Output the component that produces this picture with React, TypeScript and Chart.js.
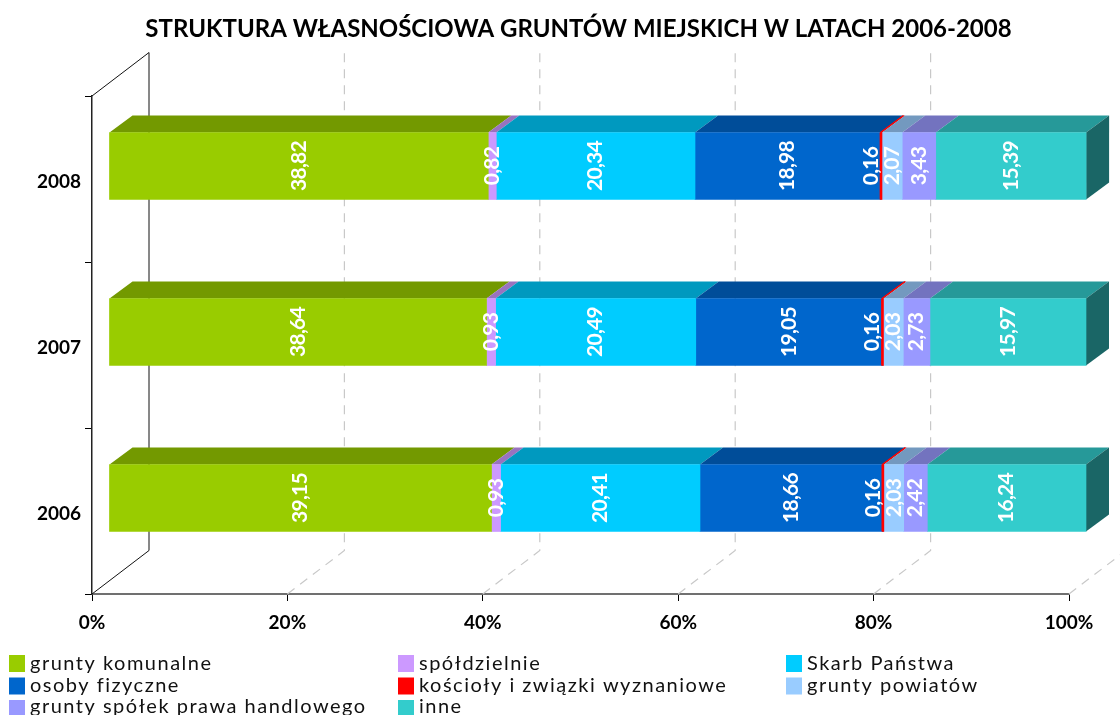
import React, { useEffect, useRef } from "react";
import { Chart, registerables } from "chart.js";

Chart.register(...registerables);

const years = ["2008", "2007", "2006"];
const komunalne = [38.82, 38.64, 39.15];
const spoldzielnie = [0.82, 0.93, 0.93];
const skarbPanstwa = [20.34, 20.49, 20.41];
const osobyFizyczne = [18.98, 19.05, 18.66];
const koscioly = [0.16, 0.16, 0.16];
const powiaty = [2.07, 2.03, 2.03];
const spolki = [3.43, 2.73, 2.42];
const inne = [15.39, 15.97, 16.24];

const labels = [
  "grunty komunalne",
  "spółdzielnie",
  "Skarb Państwa",
  "osoby fizyczne",
  "kościoły i związki wyznaniowe",
  "grunty powiatów",
  "grunty spółek prawa handlowego",
  "inne",
];
const values = [komunalne, spoldzielnie, skarbPanstwa, osobyFizyczne, koscioly, powiaty, spolki, inne];
const colors = ["#99CC00", "#CC99FF", "#00CCFF", "#0066CC", "#FF0000", "#99CCFF", "#9999FF", "#33CCCC"];
const topColors = ["#739900", "#9973BF", "#0099BF", "#004D99", "#BF0000", "#7399BF", "#7373BF", "#269999"];
const sideColor = "#1A6666";

const WALL = { dx: 57, dy: -43.5 };
const OFFSET = { dx: 17, dy: -13 };
const DEPTH = { dx: 23, dy: -17 };
const THIN = 3;
const FONT = "Lato, 'Open Sans', sans-serif";

function poly(ctx: CanvasRenderingContext2D, pts: number[][], fill: string) {
  ctx.beginPath();
  pts.forEach((p, i) => (i ? ctx.lineTo(p[0], p[1]) : ctx.moveTo(p[0], p[1])));
  ctx.closePath();
  ctx.fillStyle = fill;
  ctx.fill();
}

const walls = {
  id: "walls",
  afterLayout(chart: any) {
    if (chart.titleBlock) {
      chart.titleBlock.left -= 2;
      chart.titleBlock.right -= 2;
    }
  },
  beforeDatasetsDraw(chart: any) {
    const { ctx, scales, chartArea } = chart;
    const { top, bottom, left } = chartArea;
    ctx.save();
    ctx.lineWidth = 1.2;
    ctx.strokeStyle = "#C8C8C8";
    ctx.setLineDash([9, 7]);
    scales.x.ticks.forEach((t: any) => {
      const x = scales.x.getPixelForValue(t.value);
      if (t.value === 0) return;
      ctx.beginPath();
      ctx.moveTo(x, bottom);
      ctx.lineTo(x + WALL.dx, bottom + WALL.dy);
      ctx.lineTo(x + WALL.dx, top + WALL.dy);
      ctx.stroke();
    });
    ctx.setLineDash([]);
    ctx.lineWidth = 1;
    ctx.strokeStyle = "#111111";
    ctx.beginPath();
    ctx.moveTo(left, top);
    ctx.lineTo(left + WALL.dx, top + WALL.dy);
    ctx.lineTo(left + WALL.dx, bottom + WALL.dy);
    ctx.lineTo(left, bottom);
    ctx.stroke();
    ctx.restore();

    ctx.save();
    ctx.translate(OFFSET.dx, OFFSET.dy);
    chart.data.datasets.forEach((_: any, di: number) => {
      chart.getDatasetMeta(di).data.forEach((bar: any) => {
        const { x, y, base, height } = bar.getProps(["x", "y", "base", "height"], true);
        const t = y - height / 2;
        const b = y + height / 2;
        poly(
          ctx,
          [[base, t], [x, t], [x + DEPTH.dx, t + DEPTH.dy], [base + DEPTH.dx, t + DEPTH.dy]],
          topColors[di]
        );
        if (di === chart.data.datasets.length - 1) {
          poly(
            ctx,
            [[x, t], [x + DEPTH.dx, t + DEPTH.dy], [x + DEPTH.dx, b + DEPTH.dy], [x, b]],
            sideColor
          );
        }
      });
    });
    // the chart's own bars are drawn with the same shift; restored in afterDatasetsDraw
  },
  afterDatasetsDraw(chart: any) {
    const { ctx } = chart;
    ctx.restore();
    ctx.save();
    ctx.translate(OFFSET.dx, OFFSET.dy);
    // hairline segments stay visible, as in the original
    chart.data.datasets.forEach((ds: any, di: number) => {
      chart.getDatasetMeta(di).data.forEach((bar: any) => {
        const { x, y, base, height } = bar.getProps(["x", "y", "base", "height"], true);
        if (x - base >= THIN) return;
        const t = y - height / 2;
        ctx.fillStyle = ds.backgroundColor;
        ctx.fillRect(base - 0.8, t, 2, height);
        ctx.strokeStyle = ds.backgroundColor;
        ctx.lineWidth = 1.3;
        ctx.beginPath();
        ctx.moveTo(base, t);
        ctx.lineTo(base + DEPTH.dx, t + DEPTH.dy);
        ctx.stroke();
      });
    });
    ctx.fillStyle = "#FFFFFF";
    ctx.font = `bold 21px ${FONT}`;
    (ctx as any).letterSpacing = "-0.7px";
    ctx.textAlign = "center";
    ctx.textBaseline = "middle";
    chart.data.datasets.forEach((ds: any, di: number) => {
      chart.getDatasetMeta(di).data.forEach((bar: any, i: number) => {
        const { x, y, base } = bar.getProps(["x", "y", "base"], true);
        const shift = x - base < THIN ? -10 : 0;
        ctx.save();
        ctx.translate((x + base) / 2 + shift, y);
        ctx.rotate(-Math.PI / 2);
        ctx.fillText(ds.data[i].toFixed(2).replace(".", ","), 0, 0);
        ctx.restore();
      });
    });
    ctx.restore();
  },
};

const legend3 = {
  id: "legend3",
  afterDraw(chart: any) {
    const { ctx } = chart;
    ctx.save();
    const colX = [9, 398, 786];
    const rowY = [655, 677.5, 700];
    const textY = [663.5, 686, 706.5];
    ctx.textAlign = "left";
    ctx.textBaseline = "middle";
    ctx.font = `20px ${FONT}`;
    (ctx as any).letterSpacing = "1.5px";
    chart.data.datasets.forEach((ds: any, i: number) => {
      const x = colX[i % 3];
      const row = Math.floor(i / 3);
      ctx.fillStyle = ds.backgroundColor;
      ctx.fillRect(x, rowY[row], 16, 17);
      ctx.fillStyle = "#111111";
      ctx.fillText(ds.label, x + 21, textY[row]);
    });
    ctx.restore();
  },
};

export default function App() {
  const ref = useRef<HTMLCanvasElement>(null);
  useEffect(() => {
    document.body.style.margin = "0";
    const chart = new Chart(ref.current as HTMLCanvasElement, {
      type: "bar",
      data: {
        labels: years,
        datasets: labels.map((label, i) => ({
          label,
          data: values[i],
          backgroundColor: colors[i],
          borderWidth: 0,
          barThickness: 67,
          clip: false as any,
        })),
      },
      plugins: [walls, legend3],
      options: {
        indexAxis: "y",
        animation: false,
        responsive: false,
        layout: { padding: { left: 0, right: 51, top: 0, bottom: 0 } },
        plugins: {
          legend: { display: false },
          tooltip: { enabled: false },
          title: {
            display: true,
            text: "STRUKTURA WŁASNOŚCIOWA GRUNTÓW MIEJSKICH W LATACH 2006-2008",
            color: "#000000",
            fullSize: false,
            font: { family: FONT, size: 24, weight: "bold", lineHeight: "32px" },
            padding: { top: 13, bottom: 51 },
          },
        },
        scales: {
          x: {
            type: "linear",
            stacked: true,
            min: 0,
            max: 100,
            afterFit: (s: any) => {
              s.height = 121;
            },
            border: { display: true, color: "#707070", width: 2 },
            grid: { drawOnChartArea: false, drawTicks: true, tickLength: 7, color: "#000000" },
            ticks: {
              stepSize: 20,
              maxRotation: 0,
              padding: 10,
              color: "#000000",
              font: { family: FONT, size: 19, weight: "bold" },
              callback: (v: any) => `${v}%`,
            },
          },
          y: {
            stacked: true,
            afterFit: (s: any) => {
              s.width = 92;
            },
            border: { display: true, color: "#222222", width: 1.5 },
            grid: { drawOnChartArea: false, drawTicks: true, tickLength: 7, color: "#000000", offset: true },
            ticks: {
              padding: 4,
              labelOffset: 3,
              color: "#000000",
              font: { family: FONT, size: 19, weight: "bold" },
            },
          },
        },
      },
    } as any);
    return () => chart.destroy();
  }, []);
  return (
    <div style={{ position: "absolute", left: 0, top: 0, width: 1120, height: 715 }}>
      <canvas ref={ref} width={1120} height={715} style={{ display: "block" }} />
    </div>
  );
}
